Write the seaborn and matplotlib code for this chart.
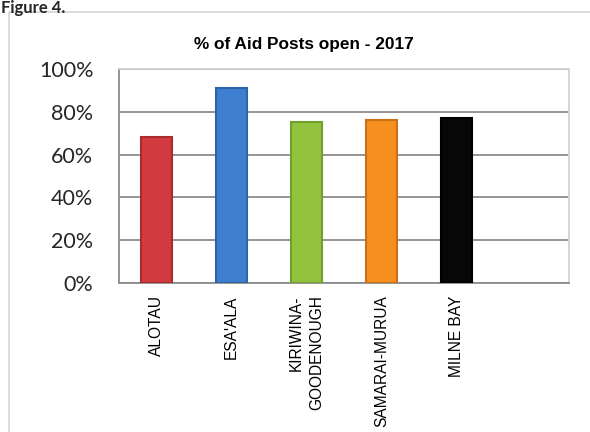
import matplotlib
matplotlib.use("Agg")
import matplotlib.pyplot as plt
import matplotlib.patches as mpatches
from matplotlib.ticker import PercentFormatter
import seaborn as sns
import pandas as pd

categories = ["ALOTAU", "ESA'ALA", "KIRIWINA-\nGOODENOUGH", "SAMARAI-MURUA", "MILNE BAY"]
values = [0.684, 0.913, 0.754, 0.762, 0.772]
bar_colors = ["#D23A3F", "#3D7ECF", "#93C23F", "#F68F1F", "#070707"]
edge_colors = ["#A82B30", "#2E63A8", "#73A02C", "#C8701A", "#000000"]
yticks = [0, 0.2, 0.4, 0.6, 0.8, 1.0]
title = "% of Aid Posts open - 2017"

sns.set_theme(style="white")
plt.rcParams['font.family'] = ['Liberation Sans', 'DejaVu Sans']

df = pd.DataFrame({"district": categories, "pct": values})

fig = plt.figure(figsize=(5.9, 4.32), dpi=100)
ax = fig.add_axes([119/590, 1-283/432, (569-119)/590, (283-69)/432])

sns.barplot(data=df, x="district", y="pct", hue="district", palette=bar_colors,
            order=categories, hue_order=categories, legend=False,
            width=0.41, ax=ax, zorder=3, saturation=1)
for patch, ec in zip(ax.patches, edge_colors):
    patch.set_edgecolor(ec)
    patch.set_linewidth(1.5)

ax.set_xlim(-0.5, 5.5)
ax.set_ylim(0, 1.0)
ax.set_yticks(yticks)
ax.yaxis.set_major_formatter(PercentFormatter(1.0, decimals=0))
ax.grid(axis="y", color="#8C8C8C", linewidth=1.3, zorder=0)
ax.set_axisbelow(True)
ax.set_xlabel("")
ax.set_ylabel("")

for side in ["top", "right"]:
    ax.spines[side].set_color("#D0D0D0")
    ax.spines[side].set_linewidth(1.2)
for side in ["left", "bottom"]:
    ax.spines[side].set_color("#8C8C8C")
    ax.spines[side].set_linewidth(1.3)

ax.tick_params(axis="both", length=0)
ax.tick_params(axis="y", pad=18.5)
ax.tick_params(axis="x", pad=9)
for lbl in ax.get_yticklabels():
    lbl.set_fontfamily(["Lato", "DejaVu Sans"])
    lbl.set_fontsize(15.5)
ax.set_xticks(range(len(categories)))
ax.set_xticklabels(categories, rotation=90, fontsize=11.2, multialignment="right",
                   color="#000000", linespacing=1.4)

fig.text(304/590, 1-45/432, title, ha="center", va="center", fontsize=12.4,
         fontweight="bold", color="#000000")

fig.text(1/590, 1.0, "Figure 4.", ha="left", va="top", fontsize=12,
         fontweight="bold", family=["Lato", "DejaVu Sans"])

frame = mpatches.Rectangle((9/590, -0.1), 1.2, (432-12)/432 + 0.1,
                           transform=fig.transFigure, fill=False,
                           edgecolor="#D9D9D9", linewidth=1.3, clip_on=False)
fig.add_artist(frame)

fig.savefig("out.png", dpi=100)
